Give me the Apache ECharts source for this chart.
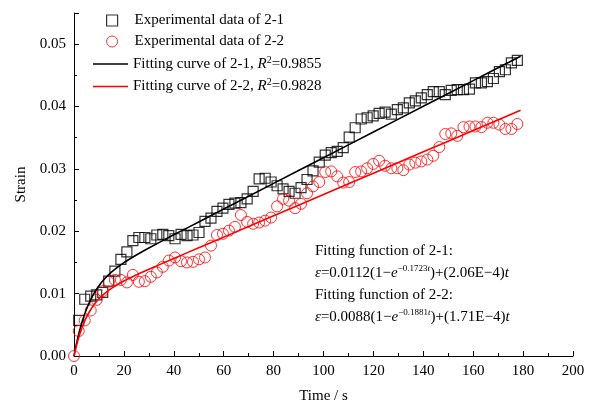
<!DOCTYPE html>
<html>
<head>
<meta charset="utf-8">
<script src="https://cdn.jsdelivr.net/npm/echarts@6/dist/echarts.min.js"></script>
<style>
  html, body { margin: 0; padding: 0; background: #fff; }
  #chart { width: 590px; height: 409px; }
</style>
</head>
<body>
<div id="chart"></div>
<script>
// sample times (s), shared by both specimens
var times = [1.9, 4.3, 6.7, 9.1, 11.5, 13.9, 16.4, 18.8, 21.2, 23.6, 26.0, 28.4, 30.8, 33.2, 35.6, 38.0,
  40.5, 42.9, 45.3, 47.7, 50.1, 52.5, 54.9, 57.3, 59.7, 62.1, 64.5, 66.9, 69.4, 71.8, 74.2, 76.6,
  79.0, 81.4, 83.8, 86.2, 88.6, 91.0, 93.4, 95.8, 98.3, 100.7, 103.1, 105.5, 107.9, 110.3, 112.7, 115.1,
  117.5, 119.9, 122.3, 124.7, 127.2, 129.6, 132.0, 134.4, 136.8, 139.2, 141.6, 144.0, 146.4, 148.8,
  151.2, 153.6, 156.1, 158.5, 160.9, 163.3, 165.7, 168.1, 170.5, 172.9, 175.3, 177.7];

// experimental strain 2-1
var strain21 = [0.0057, 0.0091, 0.0096, 0.0098, 0.0102, 0.0120, 0.0136, 0.0155, 0.0167, 0.0185, 0.0190, 0.0190, 0.0188, 0.0194, 0.0195, 0.0193,
  0.0188, 0.0195, 0.0193, 0.0194, 0.0198, 0.0216, 0.0221, 0.0232, 0.0237, 0.0243, 0.0245, 0.0246, 0.0252, 0.0264, 0.0284, 0.0285,
  0.0279, 0.0273, 0.0268, 0.0264, 0.0261, 0.0270, 0.0283, 0.0297, 0.0311, 0.0322, 0.0326, 0.0328, 0.0334, 0.0351, 0.0366, 0.0380,
  0.0382, 0.0385, 0.0389, 0.0391, 0.0388, 0.0395, 0.0398, 0.0406, 0.0409, 0.0414, 0.0419, 0.0424, 0.0424, 0.0419,
  0.0426, 0.0427, 0.0427, 0.0428, 0.0438, 0.0438, 0.0440, 0.0445, 0.0456, 0.0459, 0.0470, 0.0474];

// experimental strain 2-2
var strain22 = [0.0040, 0.0057, 0.0073, 0.0090, 0.0104, 0.0119, 0.0122, 0.0122, 0.0118, 0.0130, 0.0119, 0.0120, 0.0127, 0.0134, 0.0143, 0.0153,
  0.0158, 0.0152, 0.0150, 0.0151, 0.0155, 0.0158, 0.0177, 0.0194, 0.0196, 0.0201, 0.0207, 0.0226, 0.0215, 0.0212, 0.0214, 0.0217,
  0.0222, 0.0240, 0.0252, 0.0249, 0.0237, 0.0244, 0.0261, 0.0272, 0.0279, 0.0295, 0.0296, 0.0288, 0.0278, 0.0279, 0.0295, 0.0296,
  0.0301, 0.0308, 0.0313, 0.0305, 0.0301, 0.0301, 0.0298, 0.0307, 0.0310, 0.0312, 0.0315, 0.0321, 0.0335, 0.0356,
  0.0357, 0.0353, 0.0367, 0.0368, 0.0368, 0.0367, 0.0374, 0.0374, 0.0371, 0.0364, 0.0364, 0.0372];

// fitted curves
var fitTimes = [0, 1, 2, 3, 4, 5, 6, 8, 10, 12, 15, 20, 25, 30, 40, 50, 60, 80, 100, 120, 140, 160, 179];
var fit21 = [0, 0.00198, 0.00368, 0.00514, 0.00640, 0.00750, 0.00845, 0.01003, 0.01126, 0.01226, 0.01345, 0.01496,
  0.01620, 0.01732, 0.01943, 0.02150, 0.02356, 0.02768, 0.03180, 0.03592, 0.04004, 0.04416, 0.04807];
var fit22 = [0, 0.00168, 0.00310, 0.00431, 0.00534, 0.00622, 0.00698, 0.00821, 0.00917, 0.00993, 0.01084, 0.01202,
  0.01300, 0.01390, 0.01564, 0.01735, 0.01906, 0.02248, 0.02590, 0.02932, 0.03274, 0.03616, 0.03941];

var xTicks = [0, 20, 40, 60, 80, 100, 120, 140, 160, 180, 200];
var yTicks = [0, 0.01, 0.02, 0.03, 0.04, 0.05];

function pairs(xs, ys) {
  var out = [];
  for (var i = 0; i < xs.length; i++) {
    out.push([xs[i], ys[i]]);
  }
  return out;
}

var font = 'Liberation Serif';
var chart = echarts.init(document.getElementById('chart'));

var option = {
  backgroundColor: '#fff',
  animation: false,
  grid: { left: 74, right: 17, top: 13, bottom: 47 },
  xAxis: {
    type: 'value',
    min: xTicks[0],
    max: xTicks[xTicks.length - 1],
    interval: 20,
    name: 'Time / s',
    nameLocation: 'middle',
    nameGap: 33,
    nameTextStyle: { fontFamily: font, fontSize: 15, color: '#000' },
    axisLine: { show: true, onZero: false, lineStyle: { color: '#000', width: 1 } },
    axisTick: { show: true, inside: true, length: 5, lineStyle: { color: '#000' } },
    minorTick: { show: true, splitNumber: 2, length: 3, lineStyle: { color: '#000' } },
    axisLabel: { fontFamily: font, fontSize: 15, color: '#000', margin: 8 },
    splitLine: { show: false }
  },
  yAxis: {
    type: 'value',
    min: 0,
    max: 0.055,
    interval: 0.01,
    name: 'Strain',
    nameLocation: 'middle',
    nameGap: 45,
    nameTextStyle: { fontFamily: font, fontSize: 15, color: '#000' },
    axisLine: { show: true, onZero: false, lineStyle: { color: '#000', width: 1 } },
    axisTick: { show: true, inside: true, length: 5, lineStyle: { color: '#000' } },
    minorTick: { show: true, splitNumber: 2, length: 3, lineStyle: { color: '#000' } },
    axisLabel: {
      fontFamily: font, fontSize: 15, color: '#000', margin: 8,
      formatter: function (v) {
        for (var i = 0; i < yTicks.length; i++) {
          if (Math.abs(v - yTicks[i]) < 1e-9) return yTicks[i].toFixed(2);
        }
        return '';
      }
    },
    splitLine: { show: false }
  },
  legend: [{
    orient: 'vertical',
    left: 106,
    top: 13,
    padding: 0,
    itemGap: 6,
    itemWidth: 11,
    itemHeight: 11,
    textStyle: { fontFamily: font, fontSize: 15, color: '#000', padding: [0, 0, 0, 12] },
    data: [
      { name: 'Experimental data of 2-1', icon: 'rect', itemStyle: { color: 'rgba(0,0,0,0)', borderColor: '#000', borderWidth: 1.2 } },
      { name: 'Experimental data of 2-2', icon: 'circle', itemStyle: { color: 'rgba(0,0,0,0)', borderColor: '#ff0000', borderWidth: 1 } }
    ]
  }, {
    orient: 'vertical',
    left: 93,
    top: 55,
    padding: 0,
    itemGap: 6,
    itemWidth: 35,
    itemHeight: 1.6,
    textStyle: {
      fontFamily: font, fontSize: 15, color: '#000',
      rich: {
        n: { fontFamily: font, fontSize: 15, color: '#000' },
        i: { fontFamily: font, fontSize: 15, fontStyle: 'italic', color: '#000' },
        s: { fontFamily: font, fontSize: 10, color: '#000', padding: [0, 0, 8, 0] }
      }
    },
    formatter: function (name) {
      if (name === 'Fitting curve of 2-1') return '{n|Fitting curve of 2-1, }{i|R}{s|2}{n|=0.9855}';
      return '{n|Fitting curve of 2-2, }{i|R}{s|2}{n|=0.9828}';
    },
    data: [
      { name: 'Fitting curve of 2-1', icon: 'rect', itemStyle: { color: '#000' } },
      { name: 'Fitting curve of 2-2', icon: 'rect', itemStyle: { color: '#ff0000' } }
    ]
  }],
  graphic: [{
    type: 'text',
    left: 315,
    top: 240,
    style: {
      text: [
        '{n|Fitting function of 2-1:}',
        '{i|ε}{n|=0.0112(1−}{i|e}{s|−0.1723}{si|t}{n|)+(2.06E−4)}{i|t}',
        '{n|Fitting function of 2-2:}',
        '{i|ε}{n|=0.0088(1−}{i|e}{s|−0.1881}{si|t}{n|)+(1.71E−4)}{i|t}'
      ].join('\n'),
      fill: '#000',
      fontFamily: font,
      fontSize: 15,
      lineHeight: 22,
      rich: {
        n: { fontFamily: font, fontSize: 15, fill: '#000', lineHeight: 22 },
        i: { fontFamily: font, fontSize: 15, fontStyle: 'italic', fill: '#000', lineHeight: 22 },
        s: { fontFamily: font, fontSize: 9, fill: '#000', padding: [0, 0, 9, 0], lineHeight: 22 },
        si: { fontFamily: font, fontSize: 9, fontStyle: 'italic', fill: '#000', padding: [0, 0, 9, 0], lineHeight: 22 }
      }
    }
  }],
  series: [{
    name: 'Experimental data of 2-1',
    type: 'scatter',
    symbol: 'rect',
    symbolSize: 10,
    itemStyle: { color: 'rgba(0,0,0,0)', borderColor: '#000', borderWidth: 1.2 },
    data: pairs(times, strain21)
  }, {
    name: 'Experimental data of 2-2',
    type: 'scatter',
    symbol: 'circle',
    symbolSize: 11,
    itemStyle: { color: 'rgba(0,0,0,0)', borderColor: '#ff0000', borderWidth: 1 },
    data: [[0, 0]].concat(pairs(times, strain22))
  }, {
    name: 'Fitting curve of 2-1',
    type: 'line',
    symbol: 'none',
    smooth: 0.3,
    lineStyle: { color: '#000', width: 1.6 },
    itemStyle: { color: '#000' },
    data: pairs(fitTimes, fit21)
  }, {
    name: 'Fitting curve of 2-2',
    type: 'line',
    symbol: 'none',
    smooth: 0.3,
    lineStyle: { color: '#ff0000', width: 1.6 },
    itemStyle: { color: '#ff0000' },
    data: pairs(fitTimes, fit22)
  }]
};

chart.setOption(option);
</script>
</body>
</html>
